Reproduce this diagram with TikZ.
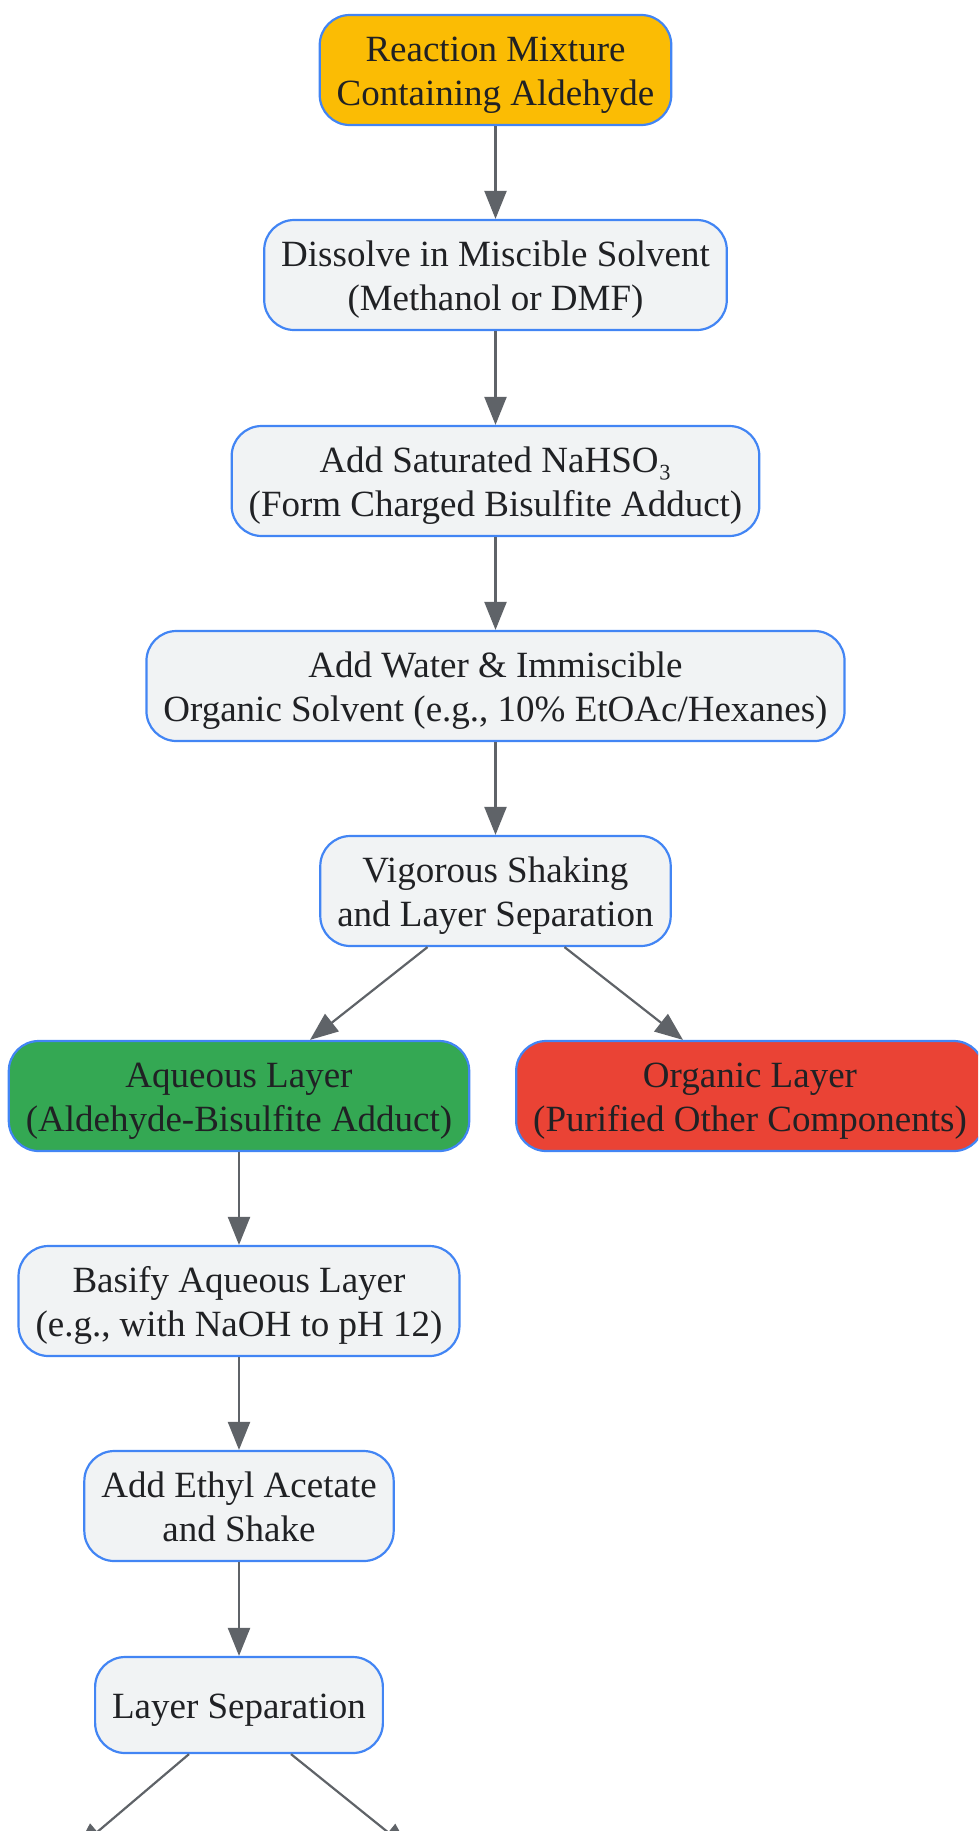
\documentclass[tikz,border=0pt]{standalone}
\usepackage{fontspec}
\setmainfont{Liberation Serif}
\usepackage{xcolor}
\usepackage{tikz}
\usetikzlibrary{positioning,arrows.meta,calc}
\definecolor{edgeblue}{HTML}{4285F4}
\definecolor{stepgrey}{HTML}{F1F3F4}
\definecolor{startyellow}{HTML}{FBBC04}
\definecolor{aqgreen}{HTML}{34A853}
\definecolor{orgred}{HTML}{EA4335}
\definecolor{inkdark}{HTML}{202124}
\definecolor{linegrey}{HTML}{5F6368}
\newcommand{\hstrut}{\rule{0pt}{40pt}}
\newcommand{\dstrut}{\rule[-13pt]{0pt}{13pt}}
\tikzset{
	box/.style={draw=edgeblue, line width=2.2pt, rounded corners=30pt, fill=stepgrey,
		text=inkdark, align=center, inner xsep=17pt, minimum height=110pt,
		font=\fontsize{37}{44}\selectfont},
	flow/.style={draw=linegrey, line width=2.2pt, -{Triangle[length=28pt,width=22pt]}}
}

\begin{document}
\begin{tikzpicture}[x=1pt,y=-1pt]
	\useasboundingbox (0,0) rectangle (978,1831);
	\clip (0,0) rectangle (978,1831);
	\node[box, fill=startyellow] (mix) at (495.5,70) {\hstrut Reaction Mixture\\Containing Aldehyde\dstrut};
	\node[box] (dissolve) at (495.5,275) {\hstrut Dissolve in Miscible Solvent\\(Methanol or DMF)\dstrut};
	\node[box] (bisulfite) at (495.5,481) {\hstrut Add Saturated NaHSO₃\\(Form Charged Bisulfite Adduct)\dstrut};
	\node[box] (water) at (495.5,686) {\hstrut Add Water \& Immiscible\\Organic Solvent (e.g., 10\% EtOAc/Hexanes)\dstrut};
	\node[box] (shake) at (495.5,891) {\hstrut Vigorous Shaking\\and Layer Separation\dstrut};
	\node[box, fill=aqgreen] (aqueous) at (239,1096) {\hstrut Aqueous Layer\\(Aldehyde-Bisulfite Adduct)\dstrut};
	\node[box, fill=orgred] (organic) at (750,1096) {\hstrut Organic Layer\\(Purified Other Components)\dstrut};
	\node[box] (basify) at (239,1301) {\hstrut Basify Aqueous Layer\\(e.g., with NaOH to pH 12)\dstrut};
	\node[box] (ethyl) at (239,1506) {\hstrut Add Ethyl Acetate\\and Shake\dstrut};
	\node[box, minimum height=96pt] (sep) at (239,1705) {\hstrut Layer Separation\dstrut};
	% off the page below
	\coordinate (leftout) at (76,1850);
	\coordinate (rightout) at (410,1850);

	\draw[flow] (mix) -- (dissolve);
	\draw[flow] (dissolve) -- (bisulfite);
	\draw[flow] (bisulfite) -- (water);
	\draw[flow] (water) -- (shake);
	\draw[flow] ([xshift=-68pt]shake.south) -- ([xshift=71pt]aqueous.north);
	\draw[flow] ([xshift=69pt]shake.south) -- ([xshift=-67pt]organic.north);
	\draw[flow] (aqueous) -- (basify);
	\draw[flow] (basify) -- (ethyl);
	\draw[flow] (ethyl) -- (sep);
	\draw[flow] ([xshift=-50pt]sep.south) -- (leftout);
	\draw[flow] ([xshift=52pt]sep.south) -- (rightout);
\end{tikzpicture}
\end{document}
